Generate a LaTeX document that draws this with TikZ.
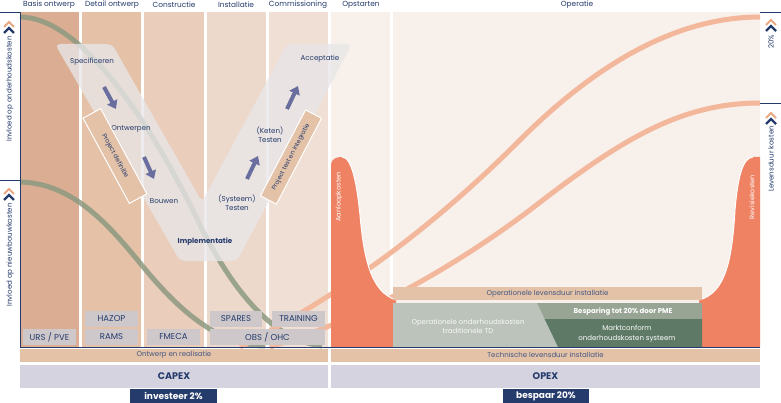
\documentclass[tikz,border=0pt]{standalone}
\usepackage{fontspec}
\setmainfont{Poppins}
\usetikzlibrary{arrows.meta}
\definecolor{navy}{HTML}{243B6B}
\definecolor{colA}{HTML}{DBAE93}
\definecolor{colB}{HTML}{E4C1A7}
\definecolor{colC}{HTML}{EACDBA}
\definecolor{colD}{HTML}{EDD9CC}
\definecolor{colE}{HTML}{F0DFD4}
\definecolor{colF}{HTML}{F7F0EB}
\definecolor{greencurve}{HTML}{8C9A80}
\definecolor{salmon}{HTML}{F3B79C}
\definecolor{vfill}{HTML}{E8E6E8}
\definecolor{arrowc}{HTML}{6A6E9E}
\definecolor{boxgray}{HTML}{CEC8CB}
\definecolor{tan}{HTML}{E3C2A8}
\definecolor{lav}{HTML}{D4D3DF}
\definecolor{coral}{HTML}{EF8263}
\definecolor{ggl}{HTML}{BBC3BA}
\definecolor{ggm}{HTML}{98A595}
\definecolor{ggd}{HTML}{5E7A66}
\definecolor{chevor}{HTML}{E9A882}
\begin{document}
\begin{tikzpicture}[x=1pt,y=-1pt,
  hdr/.style={text=navy, font=\fontsize{7.4}{9}\selectfont, inner sep=0},
  vlab/.style={text=navy, font=\fontsize{7.1}{8.6}\selectfont, align=center, inner sep=0},
  tagbox/.style={fill=boxgray, text=navy, font=\fontsize{8.5}{9}\selectfont, inner sep=0, minimum height=16pt},
  barlab/.style={fill=tan, text=navy!85, font=\fontsize{7}{8}\selectfont, inner sep=0, minimum height=13pt},
  bigbar/.style={fill=lav, text=navy, font=\bfseries\fontsize{9.6}{10}\selectfont, inner sep=0, minimum height=23pt},
  navybox/.style={fill=navy, text=white, font=\bfseries\fontsize{9}{10}\selectfont, inner sep=0, minimum height=15pt},
  axlab/.style={text=navy, font=\fontsize{7.1}{8}\selectfont, inner sep=0, rotate=90},
  axline/.style={draw=navy, line width=0.9pt},
  gcurve/.style={draw=greencurve, line width=5pt, opacity=0.85},
  scurve/.style={draw=salmon, line width=5pt},
  varrow/.style={draw=arrowc, line width=4pt, -{Triangle[width=11pt,length=8pt]}},
  projbox/.style={fill=tan, draw=white, line width=1pt, text=navy, font=\fontsize{6.4}{8}\selectfont, inner sep=0, minimum height=20pt},
  redlab/.style={text=white, font=\fontsize{6.6}{8}\selectfont, inner sep=0, rotate=90},
  chevs/.pic={\draw[chevor, line width=2pt] (-5,3) -- (0,-2) -- (5,3);
              \draw[navy, line width=2.4pt] (-5,9) -- (0,4) -- (5,9);}
]
\useasboundingbox (0,0) rectangle (781,403);
\fill[white] (0,0) rectangle (781,403);

% columns
\fill[colA] (20,12) rectangle (79,347);
\fill[colB] (82,12) rectangle (141,347);
\fill[colC] (144,12) rectangle (204,347);
\fill[colD] (207,12) rectangle (266,347);
\fill[colE] (269,12) rectangle (327.5,347);
\fill[colF] (331,12) rectangle (390,347);
\fill[colF] (393,12) rectangle (760,347);

% headers
\node[hdr] (h1) at (49,5) {Basis ontwerp};
\node[hdr] (h2) at (112,5) {Detail ontwerp};
\node[hdr] (h3) at (174,5) {Constructie};
\node[hdr] (h4) at (236,5) {Installatie};
\node[hdr] (h5) at (298,5) {Commissioning};
\node[hdr] (h6) at (361,5) {Opstarten};
\node[hdr] (h7) at (577,5) {Operatie};

% green curves
\draw[gcurve] (20,17) .. controls (80,17) and (150,120) .. (200,225) .. controls (230,285) and (270,340) .. (322,346);
\draw[gcurve] (20,182) .. controls (70,183) and (105,220) .. (140,263) .. controls (175,306) and (215,345) .. (265,346);

% salmon curves
\draw[scurve] (240,347) .. controls (330,300) and (420,240) .. (520,140) .. controls (600,60) and (680,17) .. (760,17);
\draw[scurve] (270,347) .. controls (360,320) and (450,270) .. (530,210) .. controls (620,140) and (680,103) .. (760,103);

% V shape
\fill[vfill, opacity=0.78, rounded corners=5pt] (55,44) -- (112,44) -- (202,202) -- (287,44) -- (352,44) -- (237,261) -- (180,261) -- cycle;

\node[vlab] (spec) at (92,62) {Specificeren};
\node[vlab] (ontw) at (131,129) {Ontwerpen};
\node[vlab] (bouw) at (164,201) {Bouwen};
\node[vlab] (syst) at (237,203) {(Systeem)\\Testen};
\node[vlab] (ket) at (270,135) {(Keten)\\Testen};
\node[vlab] (acc) at (320,59) {Acceptatie};
\node[vlab, font=\bfseries\fontsize{7.1}{8}\selectfont] (impl) at (205,242) {Implementatie};

\coordinate (a1s) at (104,87); \coordinate (a1e) at (116,109);
\coordinate (a2s) at (144,157); \coordinate (a2e) at (154,179);
\coordinate (a3s) at (247,179); \coordinate (a3e) at (258,156);
\coordinate (a4s) at (287,109); \coordinate (a4e) at (298,86);
\draw[varrow] (a1s) -- (a1e);
\draw[varrow] (a2s) -- (a2e);
\draw[varrow] (a3s) -- (a3e);
\draw[varrow] (a4s) -- (a4e);

\node[projbox, rotate=-61.5, minimum width=97pt] (pdef) at (115,156) {Project definitie};
\node[projbox, rotate=62.3, minimum width=97pt, minimum height=18pt, font=\fontsize{6.1}{8}\selectfont] (ptest) at (291,157) {Project test en integratie};

% red shapes
\fill[coral] (331,347) -- (331,165) .. controls (331,159) and (336,157) .. (342,157)
  .. controls (352,157) and (357,185) .. (360,215) .. controls (364,262) and (372,292) .. (396,300) -- (396,347) -- cycle;
\draw[white, line width=1pt] (342,157) .. controls (352,157) and (357,185) .. (360,215) .. controls (364,262) and (372,292) .. (396,300);
\fill[coral] (760,347) -- (760,157) -- (753,157) .. controls (743,158) and (738,175) .. (735,210)
  .. controls (732,262) and (725,293) .. (699,300) -- (699,347) -- cycle;
\draw[white, line width=1pt] (753,157) .. controls (743,158) and (738,175) .. (735,210) .. controls (732,262) and (725,293) .. (699,300);
\node[redlab] (aanl) at (339,197) {Aanloopkosten};
\node[redlab] (revi) at (752,197) {Revisiekosten};

% operational blocks
\node[barlab, minimum width=309pt] (oplev) at (547.5,293.5) {Operationele levensduur installatie};
\fill[ggl] (393,303) -- (537,303) -- (558,347) -- (393,347) -- cycle;
\fill[ggm] (537,303) -- (702,303) -- (702,319) -- (544.6,319) -- cycle;
\fill[ggd] (544.6,319) -- (702,319) -- (702,347) -- (558,347) -- cycle;
\node[text=white!92!ggl, font=\fontsize{7}{9}\selectfont, align=center, inner sep=0] (trad) at (468,326) {Operationele onderhoudskosten\\traditionele TD};
\node[text=white, font=\bfseries\fontsize{7}{8}\selectfont, inner sep=0] (besp) at (623,311.5) {Besparing tot 20\% door PME};
\node[text=white, font=\fontsize{7}{9.6}\selectfont, align=center, inner sep=0] (markt) at (627,333.5) {Marktconform\\onderhoudskosten systeem};

% bottom tag boxes
\node[tagbox, minimum width=53pt] (urs) at (49.5,337) {URS / PVE};
\node[tagbox, minimum width=53pt] (hazop) at (111.5,319) {HAZOP};
\node[tagbox, minimum width=53pt] (rams) at (111.5,337) {RAMS};
\node[tagbox, minimum width=53pt] (fmeca) at (173.5,337) {FMECA};
\node[tagbox, minimum width=52pt] (spares) at (236,319) {SPARES};
\node[tagbox, minimum width=53pt] (train) at (298.5,319) {TRAINING};
\node[tagbox, minimum width=115pt] (obs) at (267.5,337) {OBS / OHC};

% axes
\draw[axline] (0,12) -- (20,12) -- (20,347) -- (760,347);
\draw[axline] (0,180) -- (20,180);
\draw[axline] (760,12) -- (781,12);
\draw[axline] (760,103) -- (781,103);
\pic at (9,24) {chevs};
\pic at (9,191) {chevs};
\pic at (771,22) {chevs};
\pic at (771,115) {chevs};
\node[axlab] (ax1) at (10,89) {Invloed op onderhoudskosten};
\node[axlab] (ax2) at (10,255) {Invloed op nieuwbouwkosten};
\node[axlab] (ax3) at (771,42) {20\%};
\node[axlab] (ax4) at (771,159) {Levensduur kosten};

% lower bars
\node[barlab, minimum width=308pt] (ontwr) at (174,355) {Ontwerp en realisatie};
\node[barlab, minimum width=429pt] (techn) at (545.5,355) {Technische levensduur installatie};
\node[bigbar, minimum width=308pt] (capex) at (174,376.5) {CAPEX};
\node[bigbar, minimum width=429pt] (opex) at (545.5,376.5) {OPEX};
\node[navybox, minimum width=87pt] (inv) at (173.5,396) {investeer 2\%};
\node[navybox, minimum width=86pt] (bes) at (546,396) {bespaar 20\%};
\end{tikzpicture}
\end{document}
